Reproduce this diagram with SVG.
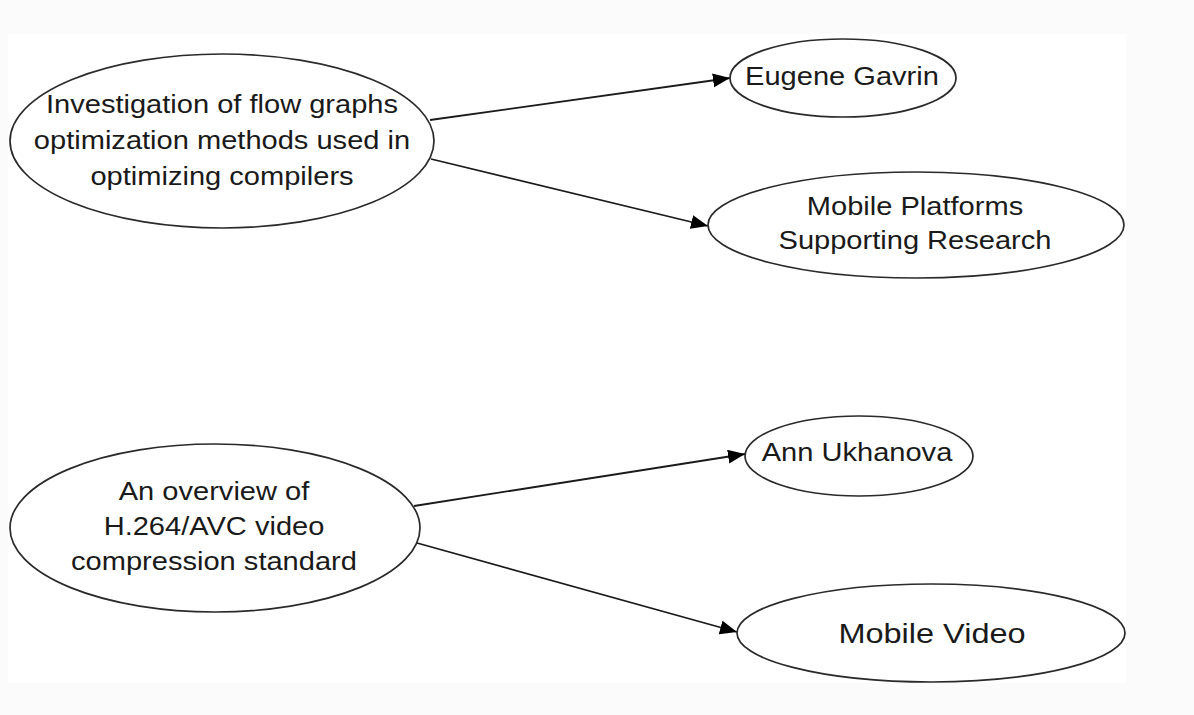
<svg xmlns="http://www.w3.org/2000/svg" width="1194" height="715" viewBox="0 0 1194 715">
<style>
.n{fill:#ffffff;stroke:#2a2a2a;stroke-width:1.7}
.t{font-family:"Liberation Sans",Arial,sans-serif;font-size:25.5px;fill:#1a1a1a;text-anchor:middle}
.big{font-size:28.5px}
.e{stroke:#1a1a1a;stroke-width:1.8;fill:none;marker-end:url(#arr)}
</style>
<defs>
<marker id="arr" markerUnits="userSpaceOnUse" markerWidth="19" markerHeight="15" refX="17" refY="7" orient="auto" viewBox="0 0 19 15">
<path d="M0,0 L17,7 L0,14 Z" fill="#000"/>
</marker>
</defs>
<rect x="0" y="0" width="1194" height="715" fill="#fbfbfb"/>
<rect x="8" y="34" width="1118" height="649" fill="#ffffff"/>
<g id="connectors">
<line class="e" x1="430" y1="120" x2="730" y2="78"/>
<line class="e" x1="431" y1="159" x2="708" y2="226"/>
<line class="e" x1="414" y1="506" x2="745" y2="454"/>
<line class="e" x1="417" y1="543" x2="737" y2="632"/>
</g>
<g id="node-investigation">
<ellipse class="n" cx="222" cy="141" rx="212" ry="87"/>
<text class="t" transform="translate(222,113) scale(1.14,1)">Investigation of flow graphs</text>
<text class="t" transform="translate(222,149) scale(1.14,1)">optimization methods used in</text>
<text class="t" transform="translate(222,185) scale(1.14,1)">optimizing compilers</text>
</g>
<g id="node-eugene">
<ellipse class="n" cx="843" cy="78" rx="113" ry="39"/>
<text class="t" transform="translate(842,85) scale(1.14,1)">Eugene Gavrin</text>
</g>
<g id="node-mobile-platforms">
<ellipse class="n" cx="916" cy="225" rx="208" ry="53"/>
<text class="t" transform="translate(915,215) scale(1.14,1)">Mobile Platforms</text>
<text class="t" transform="translate(915,249) scale(1.14,1)">Supporting Research</text>
</g>
<g id="node-overview">
<ellipse class="n" cx="215" cy="528" rx="205" ry="84"/>
<text class="t" transform="translate(214,500) scale(1.14,1)">An overview of</text>
<text class="t" transform="translate(214,535) scale(1.14,1)">H.264/AVC video</text>
<text class="t" transform="translate(214,570) scale(1.14,1)">compression standard</text>
</g>
<g id="node-ann">
<ellipse class="n" cx="859" cy="456" rx="114" ry="40"/>
<text class="t" transform="translate(857,461) scale(1.14,1)">Ann Ukhanova</text>
</g>
<g id="node-mobile-video">
<ellipse class="n" cx="931" cy="633" rx="194" ry="49"/>
<text class="t big" transform="translate(932,643) scale(1.14,1)">Mobile Video</text>
</g>
</svg>
